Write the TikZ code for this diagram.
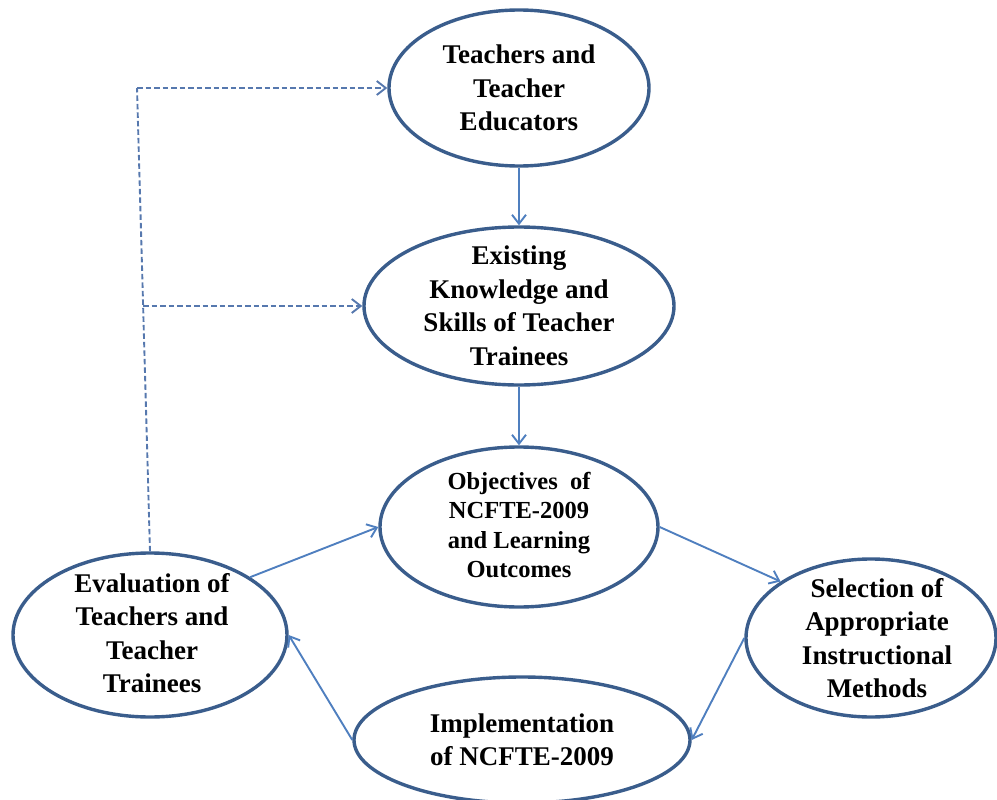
\documentclass[tikz,border=0pt]{standalone}
\usepackage{fontspec}
\setmainfont{Liberation Serif}
\usetikzlibrary{arrows.meta,shapes.geometric}
\definecolor{ellblue}{HTML}{3A5D8C}
\definecolor{arrblue}{HTML}{4F7FBF}
\definecolor{dashblue}{HTML}{5678AE}
\tikzset{
  ell/.style={ellipse, draw=ellblue, line width=3.4pt, inner sep=0pt, fill=white},
  lbl/.style={align=center, font=\bfseries\fontsize{27}{33.5}\selectfont, inner sep=0pt},
  lblsmall/.style={align=center, font=\bfseries\fontsize{24.5}{29.5}\selectfont, inner sep=0pt},
  barb/.style={-{Straight Barb[length=9pt,width=14pt,line width=1.9pt]}},
  arr/.style={draw=arrblue, line width=1.9pt, barb},
  dasharr/.style={draw=dashblue, line width=1.9pt, dash pattern=on 5.5pt off 3pt},
}
\begin{document}
\begin{tikzpicture}[x=1pt,y=-1pt]
\useasboundingbox (0,0) rectangle (997,800);
% ellipses
\node[ell, minimum width=260pt, minimum height=156pt] (top) at (519,88) {};
\node[ell, minimum width=310pt, minimum height=158pt] (exist) at (519,306) {};
\node[ell, minimum width=278pt, minimum height=160pt] (obj) at (519,527) {};
\node[ell, minimum width=274pt, minimum height=164pt] (eval) at (150,635) {};
\node[ell, minimum width=250pt, minimum height=158pt] (sel) at (871,638) {};
\node[ell, minimum width=336pt, minimum height=126pt] (impl) at (522,740) {};
% texts
\node[lbl] (toptxt) at (top.center) {Teachers and\\Teacher\\Educators};
\node[lbl] (existtxt) at (exist.center) {Existing\\Knowledge and\\Skills of Teacher\\Trainees};
\node[lblsmall] (objtxt) at ([yshift=2pt]obj.center) {Objectives~ of\\NCFTE-2009\\and Learning\\Outcomes};
\node[lbl] (evaltxt) at ([xshift=2pt,yshift=2pt]eval.center) {Evaluation of\\Teachers and\\Teacher\\Trainees};
\node[lbl] (seltxt) at ([xshift=6pt]sel.center) {Selection of\\Appropriate\\Instructional\\Methods};
\node[lbl] (impltxt) at (impl.center) {Implementation\\of NCFTE-2009};
% solid arrows
\draw[arr] (top.south) -- (exist.north);
\draw[arr] (exist.south) -- (obj.north);
\draw[arr] (eval.30) -- (obj.west);
\draw[arr] (obj.east) -- (sel.148);
\draw[arr] (sel.west) -- (impl.east);
\draw[arr] (impl.west) -- (eval.east);
% dashed feedback
\coordinate (dtop) at (137,88);
\coordinate (dmid) at (143,306);
\draw[dasharr] (eval.north) -- (dtop);
\draw[dasharr, barb] (dtop) -- (top.west);
\draw[dasharr, barb] (dmid) -- (exist.west);
\end{tikzpicture}
\end{document}
